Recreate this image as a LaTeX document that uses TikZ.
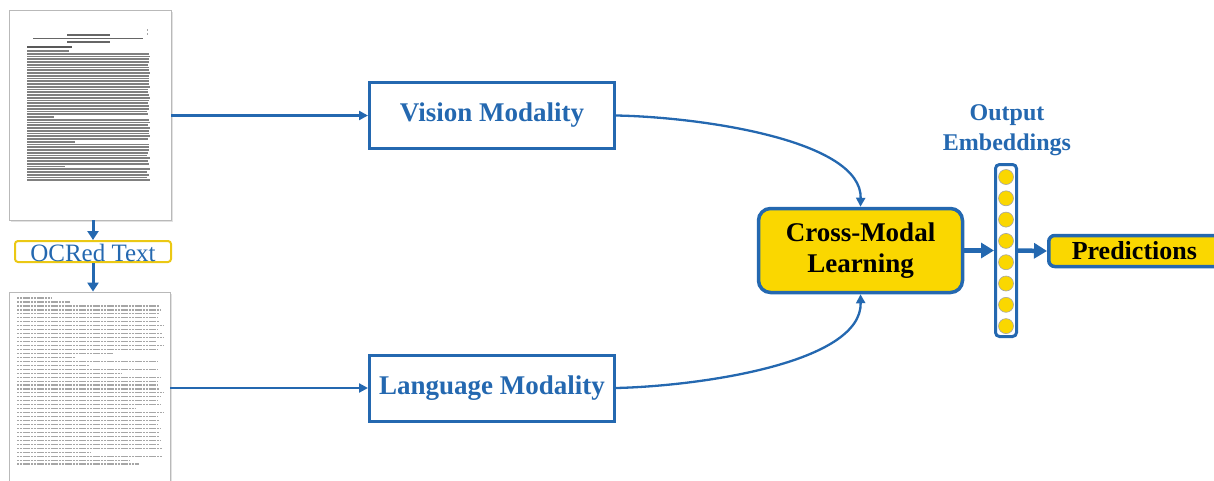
\documentclass[tikz,border=0pt]{standalone}
\usepackage{fontspec}
\setmainfont{Liberation Serif}
\usetikzlibrary{arrows.meta,shadows}
\definecolor{myblue}{RGB}{36,104,176}
\definecolor{myyellow}{RGB}{250,215,0}
\definecolor{ocryellow}{RGB}{235,200,20}
\begin{document}
\begin{tikzpicture}[x=1pt,y=-1pt,
  pagebox/.style={draw=gray!55, line width=0.8pt, fill=white, inner sep=0pt,
    drop shadow={shadow xshift=2pt, shadow yshift=-2pt, fill=gray!45}},
  modbox/.style={draw=myblue, line width=3pt, fill=white, minimum width=245pt,
    minimum height=66pt, inner sep=0pt, font=\fontsize{27}{32}\selectfont\bfseries, text=myblue},
  ocrbox/.style={draw=ocryellow, line width=2pt, fill=white, rounded corners=3pt,
    minimum width=156pt, minimum height=21pt, inner ysep=0pt, text height=19pt, text depth=0pt,
    font=\fontsize{25}{30}\selectfont, text=myblue},
  crossbox/.style={draw=myblue, line width=3.5pt, fill=myyellow, rounded corners=12pt,
    minimum width=204pt, minimum height=84pt, align=center,
    font=\fontsize{27}{31}\selectfont\bfseries, text=black},
  colbox/.style={draw=myblue, line width=3pt, fill=white, rounded corners=4pt,
    minimum width=21pt, minimum height=172pt, inner sep=0pt},
  emb/.style={circle, minimum size=15pt, inner sep=0pt, fill=myyellow, draw=gray!70, line width=0.6pt},
  predbox/.style={draw=myblue, line width=3.5pt, fill=myyellow, rounded corners=6pt,
    minimum height=31pt, text width=150pt, align=left, inner xsep=23pt, inner ysep=0pt,
    font=\fontsize{26}{30}\selectfont\bfseries, text=black},
  outlab/.style={align=center, font=\fontsize{24}{29.5}\selectfont\bfseries, text=myblue},
  conn/.style={draw=myblue, line width=2.3pt, -{Triangle[width=9pt,length=9pt]}},
  thickconn/.style={draw=myblue, line width=4.5pt, -{Triangle[width=15pt,length=13pt]}},
  vertconn/.style={draw=myblue, line width=3pt, -{Triangle[width=11pt,length=9pt]}},
  txtA/.style={draw=black!50, line width=1.9pt},
  txtB/.style={draw=black!35, line width=1.1pt, dash pattern=on 2.2pt off 0.6pt}
]
\useasboundingbox (0,0) rectangle (1214,480);
\clip (0,0) rectangle (1214,480);

% page 1 (scanned document)
\node[pagebox, minimum width=162pt, minimum height=210pt] (page1) at (90,115) {};
\draw[black!60, line width=1.3pt] (67,35) -- (110,35);
\draw[black!60, line width=1.3pt] (33,38.5) -- (143,38.5);
\draw[black!60, line width=1.3pt] (67,42) -- (110,42);
\draw[black!35, line width=0.8pt] (147,29) -- (147,31) (147,33) -- (147,35);
\draw[black!65, line width=1.4pt] (27,47) -- (72,47);
\pgfmathsetseed{3}
\foreach \i in {0,...,47}{
  \pgfmathsetmacro{\yy}{51+\i*2.75}
  \pgfmathsetmacro{\xe}{(rnd<0.12) ? 40+rnd*90 : 147+rnd*3}
  \draw[txtA] (27,\yy) -- (\xe,\yy);
}

% OCR label
\node[ocrbox] (ocr) at (93,251.5) {OCRed Text};

% page 2 (OCR text)
\node[pagebox, minimum width=161pt, minimum height=210pt] (page2) at (89.5,397) {};
\draw[txtB] (17,298) -- (52,298);
\draw[txtB] (17,302) -- (70,302);
\pgfmathsetseed{11}
\foreach \i in {0,...,40}{
  \pgfmathsetmacro{\yy}{306+\i*3.95}
  \pgfmathsetmacro{\xe}{(rnd<0.15) ? 60+rnd*90 : 156+rnd*9}
  \draw[txtB] (17,\yy) -- (\xe,\yy);
}

% modality boxes
\node[modbox] (vision) at (492,115.5) {Vision Modality};
\node[modbox] (lang) at (492,388) {Language Modality};

% cross-modal learning
\node[crossbox] (cross) at (860.5,250.5) {Cross-Modal\\Learning};

% output embeddings column
\node[colbox] (col) at (1006,250.5) {};
\foreach \k in {0,...,7}{
  \node[emb] (e\k) at (1006,{177+\k*21.3}) {};
}
\node[outlab] (olab) at (1007,130) {Output\\Embeddings};

% predictions
\node[predbox, anchor=west] (pred) at (1047,251) {Predictions};

% connectors
\draw[vertconn] (ocr.north |- page1.south) -- (ocr.north);
\draw[vertconn] (ocr.south) -- (ocr.south |- page2.north);
\draw[conn] (page1.east |- vision.west) -- (vision.west);
\draw[conn] (page2.east |- lang.west) -- (lang.west);
\draw[conn] (vision.east) .. controls (700,117) and (862,140) .. (cross.north);
\draw[conn] (lang.east) .. controls (700,386) and (862,363) .. (cross.south);
\draw[thickconn] (cross.east) -- (col.west);
\draw[thickconn] (col.east) -- (pred.west);
\end{tikzpicture}
\end{document}
